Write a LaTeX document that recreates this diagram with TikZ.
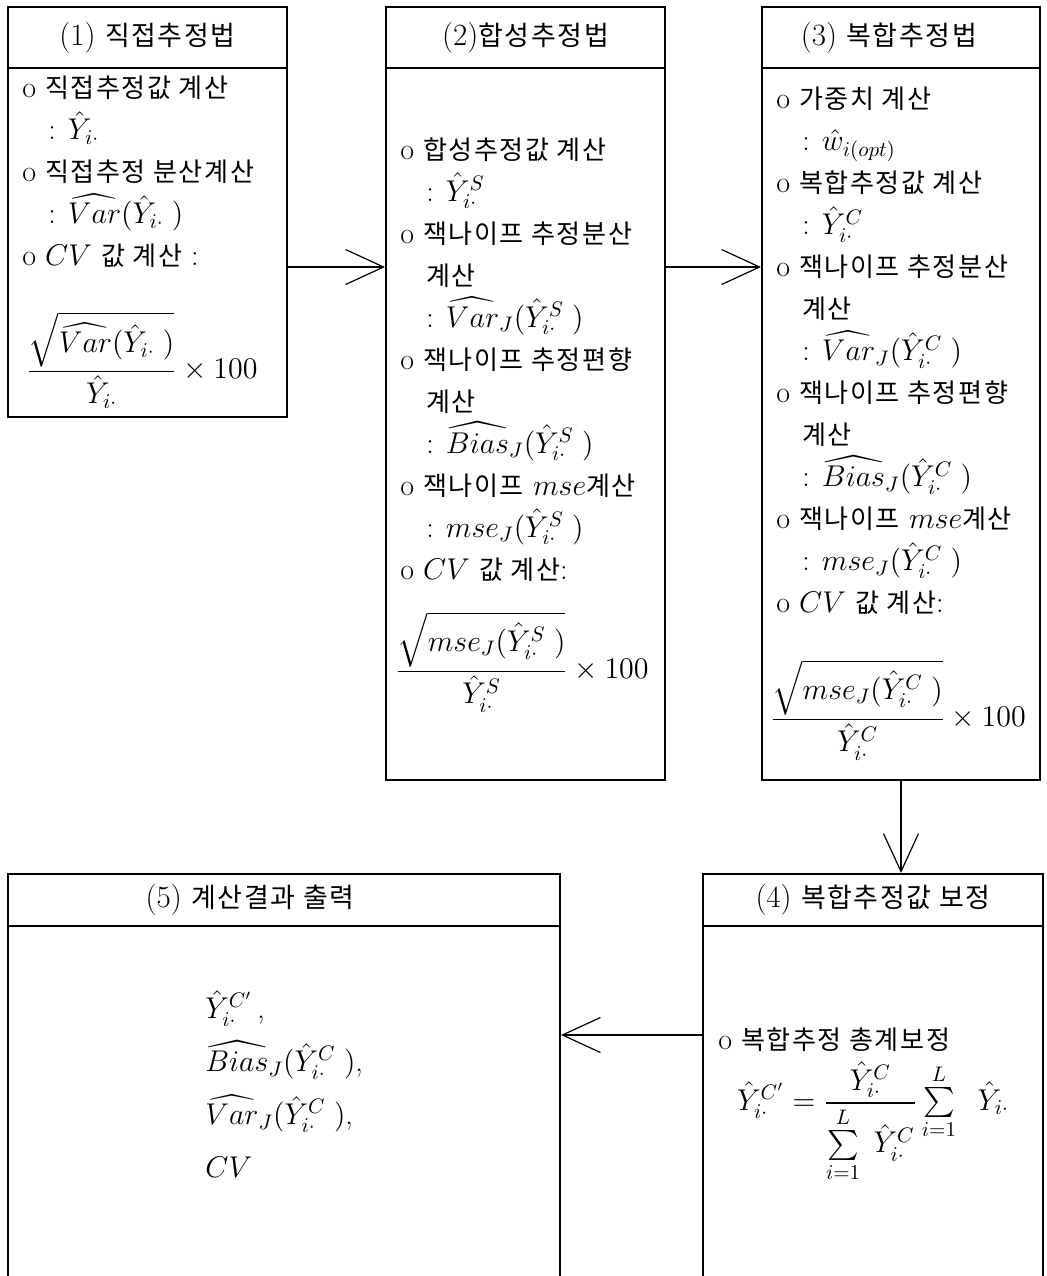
\RequirePackage{fix-cm}
\documentclass[tikz,border=0pt]{standalone}
\usepackage{amsmath}
\usepackage{amssymb}
\usepackage{fontspec}
\usepackage{tikz}
\usetikzlibrary{arrows.meta}
\newfontfamily\hangul[Scale=0.87,LetterSpace=6]{Noto Sans CJK KR}
\newcommand{\kor}[1]{{\hangul #1}}
\newcommand{\Yi}{\hat{Y}_{i\cdot}}
\newcommand{\YS}{\hat{Y}^{S}_{i\cdot}}
\newcommand{\YC}{\hat{Y}^{C}_{i\cdot}}

\tikzset{
  boxline/.style={draw, line width=1pt, inner sep=0pt},
  headtxt/.style={font=\fontsize{15.5}{21}\selectfont},
  txt/.style={anchor=north west, align=left, inner sep=0pt, font=\fontsize{15}{21}\selectfont},
  frac/.style={inner sep=0pt, font=\fontsize{15}{21}\selectfont},
  arr/.style={line width=0.6pt, -{Straight Barb[length=19pt,width=17.5pt]}}
}

\begin{document}
\begin{tikzpicture}[x=0.5pt,y=-0.5pt]
\useasboundingbox (0,0) rectangle (1047,1276);
% upper row
\node[boxline, headtxt, minimum width=139.5pt, minimum height=30.5pt] (h1) at (147.5,37.5) {(1) \kor{직접추정법}};
\node[boxline, minimum width=139.5pt, minimum height=174.5pt] (b1) at (147.5,242.5) {};
\node[boxline, headtxt, minimum width=139.5pt, minimum height=30.5pt] (h2) at (525.5,37.5) {(2)\kor{합성추정법}};
\node[boxline, minimum width=139.5pt, minimum height=356pt] (b2) at (525.5,424) {};
\node[boxline, headtxt, minimum width=139pt, minimum height=30.5pt] (h3) at (901,37.5) {(3) \kor{복합추정법}\hspace*{12pt}};
\node[boxline, minimum width=139pt, minimum height=356pt] (b3) at (901,424) {};
% lower row
\node[boxline, headtxt, minimum width=170pt, minimum height=26pt] (h4) at (873,900) {(4) \kor{복합추정값 보정}};
\node[boxline, minimum width=170pt, minimum height=182pt] (b4) at (873,1108) {};
\node[boxline, headtxt, minimum width=276pt, minimum height=26pt] (h5) at (284,900) {(5) \kor{계산결과 출력}\hspace*{34pt}};
\node[boxline, minimum width=276pt, minimum height=182pt] (b5) at (284,1108) {};

% box contents
\node[txt] (t1) at (22,76) {o \kor{직접추정값 계산}\\
\hspace*{13pt}: $\Yi$\\
o \kor{직접추정 분산계산}\\
\hspace*{13pt}: $\widehat{Var}(\Yi\;)$\\
o $CV$ \kor{값 계산} :};
\node[frac] (f1) at (142,360) {$\dfrac{\sqrt{\widehat{Var}(\Yi\;)}}{\Yi}\times 100$};

\node[txt] (t2) at (400,137) {o \kor{합성추정값 계산}\\
\hspace*{13pt}: $\YS$\\
o \kor{잭나이프 추정분산}\\
\hspace*{13pt}\kor{계산}\\
\hspace*{13pt}: $\widehat{Var}_J(\YS\;)$\\
o \kor{잭나이프 추정편향}\\
\hspace*{13pt}\kor{계산}\\
\hspace*{13pt}: $\widehat{Bias}_J(\YS\;)$\\
o \kor{잭나이프} $mse$\kor{계산}\\
\hspace*{13pt}: $mse_J(\YS\;)$\\
o $CV$ \kor{값 계산}:};
\node[frac] (f2) at (522,662) {$\dfrac{\sqrt{mse_J(\YS\;)}}{\YS}\times 100$};

\node[txt] (t3) at (776,87) {o \kor{가중치 계산}\\
\hspace*{13pt}: $\hat{w}_{i(opt)}$\\
o \kor{복합추정값 계산}\\
\hspace*{13pt}: $\YC$\\
o \kor{잭나이프 추정분산}\\
\hspace*{13pt}\kor{계산}\\
\hspace*{13pt}: $\widehat{Var}_J(\YC\;)$\\
o \kor{잭나이프 추정편향}\\
\hspace*{13pt}\kor{계산}\\
\hspace*{13pt}: $\widehat{Bias}_J(\YC\;)$\\
o \kor{잭나이프} $mse$\kor{계산}\\
\hspace*{13pt}: $mse_J(\YC\;)$\\
o $CV$ \kor{값 계산}:};
\node[frac] (f3) at (898,710) {$\dfrac{\sqrt{mse_J(\YC\;)}}{\YC}\times 100$};

\node[txt] (t4) at (718,1027) {o \kor{복합추정 총계보정}};
\node[frac] (f4) at (873,1122) {$\hat{Y}^{C'}_{i\cdot}=\dfrac{\YC}{\sum\limits_{i=1}^{L}\;\YC}\sum\limits_{i=1}^{L}\;\;\Yi$};

\node[txt, font=\fontsize{15}{26.5}\selectfont] (t5) at (205,990) {$\hat{Y}^{C'}_{i\cdot}\,$,\\
$\widehat{Bias}_J(\YC\;)$,\\
$\widehat{Var}_J(\YC\;)$,\\
$CV$};

% flow
\draw[arr] ([yshift=-12.25pt]b1.east) -- ([yshift=-12.25pt]b1.east -| b2.west);
\draw[arr] ([yshift=78.5pt]b2.east) -- ([yshift=78.5pt]b2.east -| b3.west);
\draw[arr] (b3.south) -- (b3.south |- h4.north);
\draw[arr] ([yshift=36.5pt]b4.west) -- ([yshift=36.5pt]b4.west -| b5.east);
\end{tikzpicture}
\end{document}
